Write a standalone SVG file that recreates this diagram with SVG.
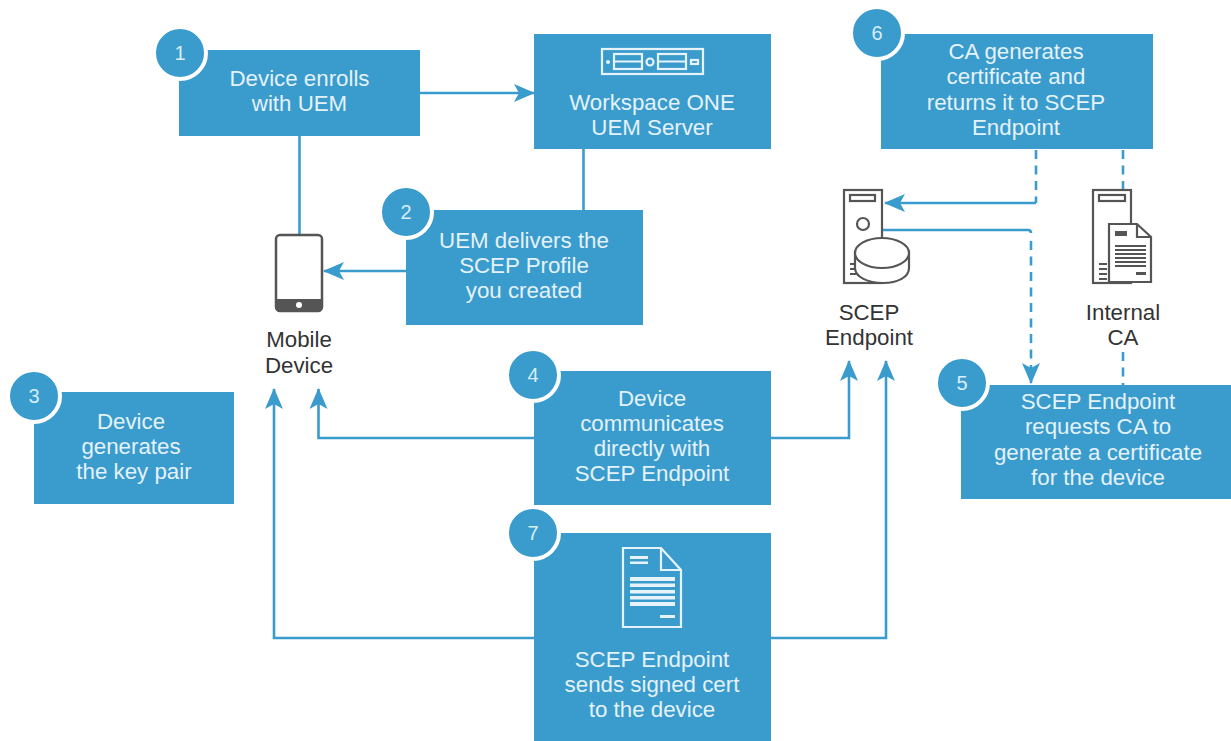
<svg xmlns="http://www.w3.org/2000/svg" width="1231" height="741" viewBox="0 0 1231 741">
<style>
.box{fill:#3a9bcd}
.badge{fill:#3a9bcd;stroke:#fff;stroke-width:4}
.t{font-family:"Liberation Sans",Arial,sans-serif;font-size:22.3px;text-anchor:middle;fill:#e4f2f9}
.n{font-family:"Liberation Sans",Arial,sans-serif;font-size:20px;text-anchor:middle;fill:#d8eef8}
.k{font-family:"Liberation Sans",Arial,sans-serif;font-size:22.3px;text-anchor:middle;fill:#333}
.c{fill:none;stroke:#3a9bcd;stroke-width:2.6}
.d{stroke-dasharray:9 6.5}
.wi{fill:none;stroke:#e6f3fa;stroke-width:2.2}
.wf{fill:#e6f3fa}
.di{fill:#fff;stroke:#555;stroke-width:2.2}
.dn{fill:none;stroke:#555;stroke-width:2.2}
.df{fill:#555}
</style>
<defs>
<marker id="arr" markerWidth="22" markerHeight="18" refX="20" refY="9" orient="auto" markerUnits="userSpaceOnUse"><path d="M0 0L21 9L0 18L5 9Z" fill="#3a9bcd"/></marker>
</defs>
<g id="connectors">
<path class="c" marker-end="url(#arr)" d="M419 93H534"/>
<path class="c" d="M299.500 135V235"/>
<path class="c" d="M583.500 149V210"/>
<path class="c" marker-end="url(#arr)" d="M406 271H324"/>
<path class="c" marker-end="url(#arr)" d="M534 438H318.500V389"/>
<path class="c" marker-end="url(#arr)" d="M771 438H849V361"/>
<path class="c" marker-end="url(#arr)" d="M534 638H274V389"/>
<path class="c" marker-end="url(#arr)" d="M771 638H886V361"/>
<path class="c" marker-end="url(#arr)" d="M1036 203H885"/>
<path class="c" d="M883 230H1028Q1031 230 1031 233"/>
<path class="c d" marker-end="url(#arr)" d="M1031 241V383"/>
<path class="c d" d="M1036 150V203"/>
<path class="c d" d="M1123 150V190"/>
<path class="c d" d="M1123 352V386"/>
</g>
<g id="node-1">
<rect class="box" x="179" y="50" width="241" height="86"/>
<text class="t" x="299.500" y="86">Device enrolls</text><text class="t" x="299.500" y="111">with UEM</text>
<circle class="badge" cx="180" cy="53" r="26"/><text class="n" x="180" y="60">1</text>
</g>
<g id="node-server">
<rect class="box" x="534" y="34" width="237" height="115"/>
<g>
<rect class="wi" x="602" y="49" width="101" height="25"/>
<rect class="wi" x="614" y="54" width="28" height="15"/>
<rect class="wi" x="658" y="54" width="28" height="15"/>
<path class="wi" d="M614 61.500H642M658 61.500H686"/>
<circle class="wi" cx="650" cy="62" r="3.500"/>
<circle class="wf" cx="608" cy="62" r="2"/>
<rect class="wi" x="691" y="60" width="7" height="4"/>
</g>
<text class="t" x="652" y="110">Workspace ONE</text><text class="t" x="652" y="135">UEM Server</text>
</g>
<g id="node-2">
<rect class="box" x="406" y="210" width="237" height="115"/>
<text class="t" x="524" y="248">UEM delivers the</text><text class="t" x="524" y="273">SCEP Profile</text><text class="t" x="524" y="298">you created</text>
<circle class="badge" cx="406" cy="212" r="26"/><text class="n" x="406" y="219">2</text>
</g>
<g id="node-3">
<rect class="box" x="34" y="392" width="200" height="112"/>
<text class="t" x="131" y="429">Device</text><text class="t" x="131" y="454">generates</text><text class="t" x="134" y="479">the key pair</text>
<circle class="badge" cx="34" cy="396" r="26"/><text class="n" x="34" y="403">3</text>
</g>
<g id="node-4">
<rect class="box" x="534" y="371" width="237" height="134"/>
<text class="t" x="652" y="406">Device</text><text class="t" x="652" y="431">communicates</text><text class="t" x="652" y="456">directly with</text><text class="t" x="652" y="481">SCEP Endpoint</text>
<circle class="badge" cx="533" cy="375" r="26"/><text class="n" x="533" y="382">4</text>
</g>
<g id="node-5">
<rect class="box" x="961" y="385" width="270" height="114"/>
<text class="t" x="1098" y="409">SCEP Endpoint</text><text class="t" x="1098" y="434">requests CA to</text><text class="t" x="1098" y="460">generate a certificate</text><text class="t" x="1098" y="485">for the device</text>
<circle class="badge" cx="962" cy="383" r="26"/><text class="n" x="962" y="390">5</text>
</g>
<g id="node-6">
<rect class="box" x="881" y="34" width="272" height="115"/>
<text class="t" x="1016" y="59">CA generates</text><text class="t" x="1016" y="84">certificate and</text><text class="t" x="1016" y="110">returns it to SCEP</text><text class="t" x="1016" y="135">Endpoint</text>
<circle class="badge" cx="877" cy="33" r="26"/><text class="n" x="877" y="40">6</text>
</g>
<g id="node-7">
<rect class="box" x="534" y="533" width="237" height="208"/>
<g>
<path class="wi" d="M623 548H661L681 570V627H623Z"/>
<path class="wi" d="M661 548V570H681"/>
<path class="wf" d="M630 556H648V559H630ZM630 561.500H648V564H630ZM630 577H675V581H630ZM630 583.500H675V587H630ZM630 590H675V593.500H630ZM630 596H675V599.500H630ZM630 602H675V606H630ZM660 615H675V618H660Z"/>
</g>
<text class="t" x="652" y="667">SCEP Endpoint</text><text class="t" x="652" y="692">sends signed cert</text><text class="t" x="652" y="717">to the device</text>
<circle class="badge" cx="533" cy="533" r="26"/><text class="n" x="533" y="540">7</text>
</g>
<g id="node-mobile">
<rect x="276" y="235" width="46" height="76" rx="4" fill="#fff" stroke="#555" stroke-width="2.500"/>
<path class="df" d="M276 299H322V307Q322 311 318 311H280Q276 311 276 307Z"/>
<circle cx="299" cy="305" r="3" fill="#fff"/>
<text class="k" x="299" y="347">Mobile</text><text class="k" x="299" y="373">Device</text>
</g>
<g id="node-scep">
<rect class="di" x="844" y="190" width="38" height="93"/>
<rect class="dn" x="850" y="195" width="25" height="6"/>
<circle class="dn" cx="863" cy="224" r="6"/>
<path class="dn" d="M850 264H856M850 269H856M850 274H856"/>
<path class="di" d="M855 252V268C855 277 868 283 883 283C898 283 909 277 909 268V252Z"/>
<ellipse class="di" cx="882" cy="253" rx="27" ry="15"/>
<text class="k" x="869" y="320">SCEP</text><text class="k" x="869" y="345">Endpoint</text>
</g>
<g id="node-ca">
<rect class="di" x="1093" y="190" width="38" height="93"/>
<rect class="dn" x="1099" y="195" width="26" height="6"/>
<path class="dn" d="M1099 264H1107M1099 269H1107M1099 274H1107M1099 279H1107"/>
<path class="di" d="M1109 224H1137L1151 237V282H1109Z"/>
<path class="dn" d="M1137 224V237H1151"/>
<path class="df" d="M1115 231H1127V236H1115ZM1115 245H1146V247H1115ZM1115 249H1146V251H1115ZM1115 253H1146V255H1115ZM1115 257H1146V259H1115ZM1115 261H1146V263H1115ZM1115 265H1146V267H1115ZM1136 272H1146V275H1136Z"/>
<text class="k" x="1123" y="320">Internal</text><text class="k" x="1123" y="345">CA</text>
</g>
</svg>
